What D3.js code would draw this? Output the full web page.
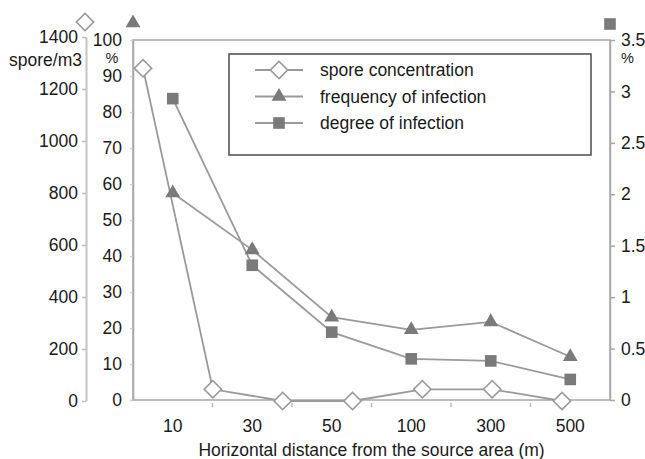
<!DOCTYPE html>
<html>
<head>
<meta charset="utf-8">
<script src="https://cdn.jsdelivr.net/npm/d3@7"></script>
<style>
  body { margin: 0; background: #fff; }
  text { font-family: "Liberation Sans", Arial, Helvetica, sans-serif; fill: #1a1a1a; }
</style>
</head>
<body>
<div id="chart"></div>
<script>
// distances shown on the x axis
let distances = ["10", "30", "50", "100", "300", "500"];
// spore trap points sit on their own evenly spaced positions (7 of them)
let sporePoints = ["p1", "p2", "p3", "p4", "p5", "p6", "p7"];
let sporeValues = [1280, 45, 0, 0, 45, 45, 0];          // spore/m3
let frequencyValues = [57.5, 41.7, 23, 19.5, 21.7, 12]; // %
let degreeValues = [2.93, 1.31, 0.66, 0.40, 0.38, 0.20]; // %

let sporeTicks = [0, 200, 400, 600, 800, 1000, 1200, 1400];
let pctTicks = [0, 10, 20, 30, 40, 50, 60, 70, 80, 90, 100];
let degreeTicks = [0, 0.5, 1, 1.5, 2, 2.5, 3, 3.5];

let legendLabels = ["spore concentration", "frequency of infection", "degree of infection"];

let config_size = {
    svg_width: 645,
    svg_height: 459,
    plot: { left: 133, right: 610, top: 40, bottom: 400 },
};
let fontSize = 17.5;
let lineColor = "#9a9a9a";
let axisColor = "#a8a8a8";
let markFill = "#7a7a7a";

let svg = d3.select("#chart").append("svg")
    .attr("width", config_size.svg_width).attr("height", config_size.svg_height);
let p = config_size.plot;

let x = d3.scaleBand().domain(distances).range([p.left, p.right]);
let xSpore = d3.scalePoint().domain(sporePoints).range([143, 562]);
let yPct = d3.scaleLinear().domain([0, 100]).range([p.bottom, p.top]);
let ySpore = d3.scaleLinear().domain([0, 1400]).range([401, 37]);
let yDeg = d3.scaleLinear().domain([0, 3.5]).range([p.bottom, p.top]);

// plot frame
svg.append("rect")
    .attr("x", p.left).attr("y", p.top)
    .attr("width", p.right - p.left).attr("height", p.bottom - p.top)
    .attr("fill", "none").attr("stroke", axisColor).attr("stroke-width", 1.5);

function styleAxis(g, tickColor) {
    g.select(".domain").attr("stroke", axisColor).attr("stroke-width", 1.5);
    g.selectAll(".tick line").attr("stroke", tickColor).attr("stroke-width", 1.5);
    g.selectAll(".tick text").attr("font-size", fontSize).attr("fill", "#1a1a1a")
        .attr("font-family", "'Liberation Sans', Arial, sans-serif");
}
let plain = d => String(d);

// outer left axis: spore/m3
let gSpore = svg.append("g").attr("transform", "translate(86,0)")
    .call(d3.axisLeft(ySpore).tickValues(sporeTicks).tickFormat(plain)
        .tickSize(4).tickPadding(4).tickSizeOuter(0));
styleAxis(gSpore, "#bbb");
gSpore.select(".domain").attr("stroke", "#c4c4c4").attr("stroke-width", 2);

// inner left axis: %
let gPct = svg.append("g").attr("transform", `translate(${p.left},0)`)
    .call(d3.axisLeft(yPct).tickValues(pctTicks).tickFormat(plain)
        .tickSize(3).tickPadding(8).tickSizeOuter(0));
styleAxis(gPct, "#d0d0d0");

// right axis: degree %
let gDeg = svg.append("g").attr("transform", `translate(${p.right},0)`)
    .call(d3.axisRight(yDeg).tickValues(degreeTicks).tickFormat(plain)
        .tickSize(5).tickPadding(6).tickSizeOuter(0));
styleAxis(gDeg, axisColor);

// bottom axis: labels centred in bands, small ticks on band edges
let gX = svg.append("g").attr("transform", `translate(0,${p.bottom})`)
    .call(d3.axisBottom(x).tickSize(0).tickPadding(20));
styleAxis(gX, axisColor);
gX.select(".domain").remove();
gX.selectAll(".edge").data(distances.slice(1)).join("line")
    .attr("x1", d => x(d)).attr("x2", d => x(d))
    .attr("y1", 3).attr("y2", 7)
    .attr("stroke", "#bbb").attr("stroke-width", 1.5);

// unit labels
svg.append("text").attr("x", 82).attr("y", 66).attr("text-anchor", "end")
    .attr("font-size", fontSize).text("spore/m3");
svg.append("text").attr("x", 112).attr("y", 63).attr("text-anchor", "middle")
    .attr("font-size", 14.5).text("%");
svg.append("text").attr("x", 621).attr("y", 63)
    .attr("font-size", 14.5).text("%");
svg.append("text").attr("x", (p.left + p.right) / 2).attr("y", 456).attr("text-anchor", "middle")
    .attr("font-size", fontSize).text("Horizontal distance from the source area (m)");

// marker symbols
let diamond = d3.symbol().type(d3.symbolSquare).size(150);
let triangle = d3.symbol().type(d3.symbolTriangle).size(95);
let square = d3.symbol().type(d3.symbolSquare).size(135);

function drawDiamond(g, cx, cy) {
    g.append("path").attr("d", diamond())
        .attr("transform", `translate(${cx},${cy}) rotate(45)`)
        .attr("fill", "#fff").attr("stroke", lineColor).attr("stroke-width", 1.6);
}
function drawTriangle(g, cx, cy) {
    g.append("path").attr("d", triangle())
        .attr("transform", `translate(${cx},${cy})`).attr("fill", markFill);
}
function drawSquare(g, cx, cy) {
    g.append("path").attr("d", square())
        .attr("transform", `translate(${cx},${cy})`).attr("fill", markFill);
}

// series lines
let sporeData = sporePoints.map((k, i) => ({ k, v: sporeValues[i] }));
let freqData = distances.map((k, i) => ({ k, v: frequencyValues[i] }));
let degData = distances.map((k, i) => ({ k, v: degreeValues[i] }));
let cx = d => x(d) + x.bandwidth() / 2;

let series_g = svg.append("g");
series_g.append("path").datum(freqData)
    .attr("fill", "none").attr("stroke", lineColor).attr("stroke-width", 1.8)
    .attr("d", d3.line().x(d => cx(d.k)).y(d => yPct(d.v)));
series_g.append("path").datum(degData)
    .attr("fill", "none").attr("stroke", lineColor).attr("stroke-width", 1.8)
    .attr("d", d3.line().x(d => cx(d.k)).y(d => yDeg(d.v)));
series_g.append("path").datum(sporeData)
    .attr("fill", "none").attr("stroke", lineColor).attr("stroke-width", 1.8)
    .attr("d", d3.line().x(d => xSpore(d.k)).y(d => ySpore(d.v)));

freqData.forEach(d => drawTriangle(series_g, cx(d.k), yPct(d.v)));
degData.forEach(d => drawSquare(series_g, cx(d.k), yDeg(d.v)));
sporeData.forEach(d => drawDiamond(series_g, xSpore(d.k), ySpore(d.v)));

// axis key symbols above each axis
drawDiamond(svg, 85, 22);
drawTriangle(svg, p.left, 23);
drawSquare(svg, p.right, 24);

// legend
let legend_g = svg.append("g");
legend_g.append("rect").attr("x", 229).attr("y", 54).attr("width", 362).attr("height", 101)
    .attr("fill", "#fff").attr("stroke", "#555").attr("stroke-width", 1.6);
let drawers = [drawDiamond, drawTriangle, drawSquare];
legendLabels.forEach((lab, i) => {
    let ly = 70 + i * 26.5;
    legend_g.append("line").attr("x1", 255).attr("x2", 303).attr("y1", ly).attr("y2", ly)
        .attr("stroke", lineColor).attr("stroke-width", 1.8);
    drawers[i](legend_g, 279, ly);
    legend_g.append("text").attr("x", 320).attr("y", ly + 6).attr("font-size", fontSize).text(lab);
});
</script>
</body>
</html>
